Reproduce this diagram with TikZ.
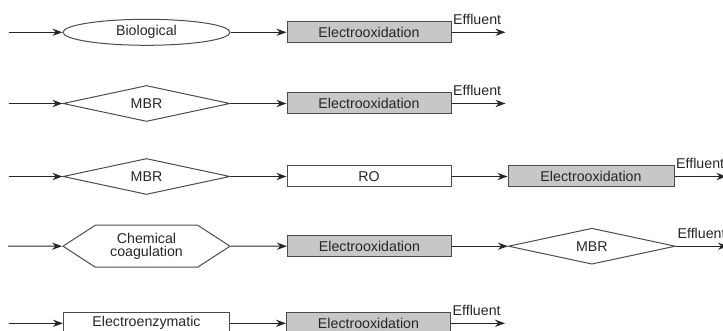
\documentclass[tikz,border=0pt]{standalone}
\usepackage{fontspec}
\setmainfont{Liberation Sans}
\usetikzlibrary{arrows.meta,positioning,shapes.geometric,shapes.symbols}

\begin{document}
\begin{tikzpicture}[
    >={Stealth[length=5pt,width=3.6pt]},
    node distance=10mm and 28pt,
    font=\fontsize{7.1pt}{6.5pt}\selectfont,
    line width=0.5pt,
    base/.style={
      draw=black!70,
      text=black!85,
      inner sep=0pt,
      align=center
    },
    block/.style={base, rectangle, minimum width=82pt, minimum height=10.5pt},
    eobox/.style={block, fill=black!22},
    oval/.style={base, ellipse, minimum width=83.5pt, minimum height=13pt},
    rhomb/.style={base, diamond, aspect=4.6, minimum width=83.5pt, minimum height=18pt},
    hexa/.style={
      base,
      signal,
      signal to=west and east,
      signal pointer angle=66,
      minimum width=83.5pt,
      minimum height=21pt
    },
    effl/.style={anchor=base west, inner sep=0pt, text=black!85, xshift=0.6pt, yshift=3.75pt},
    every edge/.style={draw=black!85,->}
  ]
  \useasboundingbox (0,0) rectangle (361.5pt,-165.5pt);
  % row 1
  \node[oval] (bio) at (73.25pt,-16.15pt) {Biological};
  \node[eobox, right=of bio] (eo1) {Electrooxidation};
  \coordinate[left=27pt of bio] (in1);
  \coordinate[right=27pt of eo1] (out1);
  % row 2
  \node[rhomb] (mbr2) at (73.25pt,-51.75pt) {MBR};
  \node[eobox, right=of mbr2] (eo2) {Electrooxidation};
  \coordinate[left=27pt of mbr2] (in2);
  \coordinate[right=27pt of eo2] (out2);
  % row 3
  \node[rhomb] (mbr3) at (73.25pt,-88.25pt) {MBR};
  \node[block, right=of mbr3] (ro) {RO};
  \node[eobox, right=of ro, minimum width=83pt] (eo3) {Electrooxidation};
  \coordinate[left=27pt of mbr3] (in3);
  \coordinate[right=26pt of eo3] (out3);
  % row 4
  \node[hexa] (coag) at (73.25pt,-123.1pt) {Chemical\\coagulation};
  \node[eobox, right=of coag] (eo4) {Electrooxidation};
  \node[rhomb, right=of eo4] (mbr4) {MBR};
  \coordinate[left=27pt of coag] (in4);
  \coordinate[right=26pt of mbr4] (out4);
  % row 5
  \node[block, minimum width=83pt] (enz) at (73.25pt,-161.65pt) {Electroenzymatic};
  \node[eobox, right=of enz] (eo5) {Electrooxidation};
  \coordinate[left=27pt of enz] (in5);
  \coordinate[right=27pt of eo5] (out5);

  \path (in1) edge (bio)
        (bio) edge (eo1)
        (eo1) edge node[effl, pos=0] {Effluent} (out1);
  \path (in2) edge (mbr2)
        (mbr2) edge (eo2)
        (eo2) edge node[effl, pos=0] {Effluent} (out2);
  \path (in3) edge (mbr3)
        (mbr3) edge (ro)
        (ro) edge (eo3)
        (eo3) edge node[effl, pos=0] {Effluent} (out3);
  \path (in4) edge (coag)
        (coag) edge (eo4)
        (eo4) edge (mbr4)
        (mbr4) edge node[effl, pos=0] {Effluent} (out4);
  \path (in5) edge (enz)
        (enz) edge (eo5)
        (eo5) edge node[effl, pos=0] {Effluent} (out5);
\end{tikzpicture}
\end{document}
